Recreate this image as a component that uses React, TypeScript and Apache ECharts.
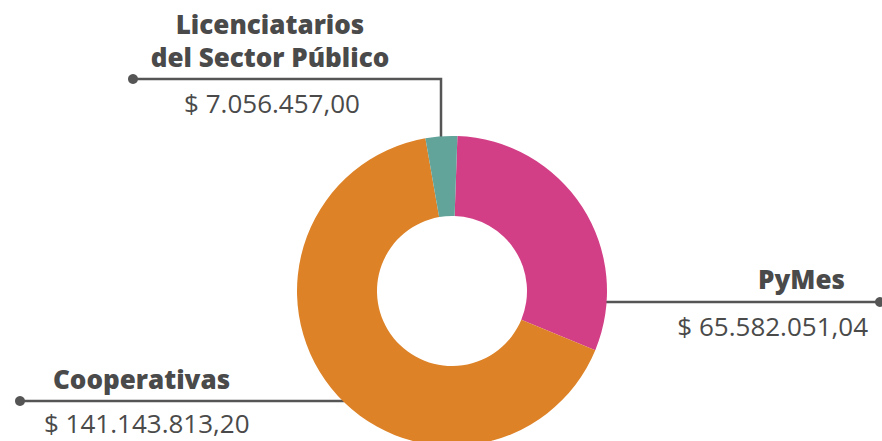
import React, { useEffect, useRef } from "react";
import * as echarts from "echarts";

const categories = ["PyMes", "Cooperativas", "Licenciatarios del Sector Público"];
const values = [65582051.04, 141143813.2, 7056457.0];
const colors = ["#D33F87", "#DD8227", "#62A39A"];

const titleLines = [["PyMes"], ["Cooperativas"], ["Licenciatarios", "del Sector Público"]];

function fmt(v: number): string {
  const [int, dec] = v.toFixed(2).split(".");
  const withDots = int.replace(/\B(?=(\d{3})+(?!\d))/g, ".");
  return "$ " + withDots + "," + dec;
}

const TEXT = "#4a4a4a";
const LINE = "#555555";
const FONT = "'Open Sans', sans-serif";

export default function App() {
  const ref = useRef<HTMLDivElement>(null);
  useEffect(() => {
    document.body.style.margin = "0";
    const chart = echarts.init(ref.current!, undefined, { renderer: "svg" });
    const title = (text: string, x: number, y: number, align: string) => ({
      type: "text",
      x,
      y,
      style: {
        text,
        fill: TEXT,
        font: `800 26px ${FONT}`,
        align,
        verticalAlign: "middle",
      },
    });
    const value = (text: string, x: number, y: number, align: string) => ({
      type: "text",
      x,
      y,
      style: {
        text,
        fill: TEXT,
        font: `26px ${FONT}`,
        align,
        verticalAlign: "middle",
      },
    });
    const dot = (x: number, y: number) => ({
      type: "circle",
      shape: { cx: x, cy: y, r: 5 },
      style: { fill: LINE },
    });
    const line = (pts: number[][]) => ({
      type: "polyline",
      shape: { points: pts },
      style: { stroke: LINE, lineWidth: 2.5, fill: null },
    });
    chart.setOption({
      animation: false,
      series: [
        {
          type: "pie",
          center: [452, 291],
          radius: [75, 155],
          startAngle: 88,
          clockwise: true,
          label: { show: false },
          labelLine: { show: false },
          emphasis: { disabled: true },
          silent: true,
          data: categories.map((name, i) => ({
            name,
            value: values[i],
            itemStyle: { color: colors[i] },
          })),
        },
      ],
      graphic: [
        // Licenciatarios
        line([[133, 79], [441, 79], [441, 137]]),
        dot(133, 79),
        title(titleLines[2][0], 270, 24, "center"),
        title(titleLines[2][1], 270, 57, "center"),
        value(fmt(values[2]), 272, 103, "center"),
        // PyMes
        line([[606, 302], [880, 302]]),
        dot(880, 302),
        title(titleLines[0][0], 845, 279, "right"),
        value(fmt(values[0]), 868, 326, "right"),
        // Cooperativas
        line([[20, 401], [344, 401]]),
        dot(20, 401),
        title(titleLines[1][0], 53, 379, "left"),
        value(fmt(values[1]), 44, 423, "left"),
      ],
    });
    return () => chart.dispose();
  }, []);
  return <div ref={ref} style={{ width: 882, height: 441 }} />;
}
